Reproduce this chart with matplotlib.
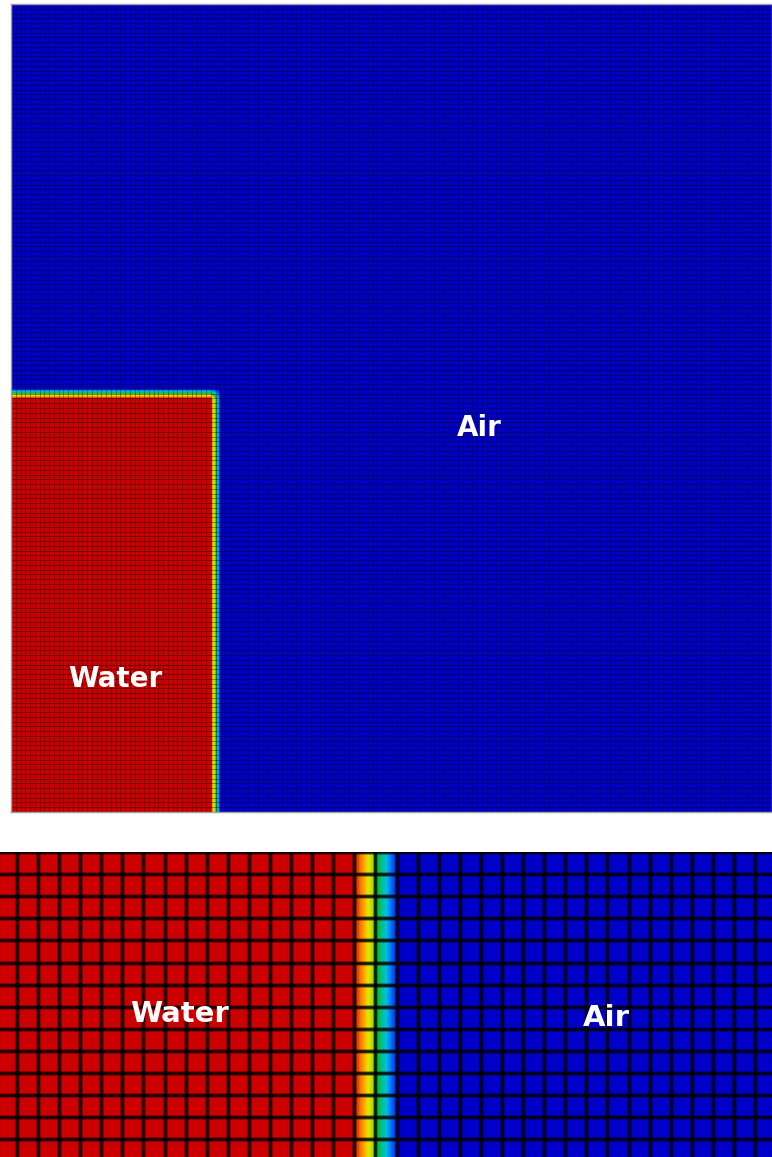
import numpy as np
import matplotlib
matplotlib.use('Agg')
import matplotlib.pyplot as plt
from matplotlib.colors import LinearSegmentedColormap

##-- data --##
# top view: whole domain mesh, water column in the lower-left corner
nCellsX, nCellsY = 160, 170
waterCellsX, waterCellsY = 43, 88
# alpha.water on the nodes across the interface (inside -> outside)
interfaceProfile = [1.0, 0.5, 0.0]

# bottom view: close-up of the interface
zoomCellsX, zoomCellsY = 38, 15
zoomInterfaceNode = 17      #--last fully wet node column

labelsTop = {'Air': (0.615, 0.475), 'Water': (0.137, 0.165)}
labelsZoom = {'Water': (0.233, 0.47), 'Air': (0.785, 0.455)}

##-- colour map (ParaView-like jet) --##
cmap = LinearSegmentedColormap.from_list('alpha', [
    (0.00, '#0000c8'), (0.05, '#0040ff'), (0.24, '#00c0e0'), (0.44, '#00c040'),
    (0.56, '#a0e000'), (0.68, '#f0e000'), (0.84, '#ff8000'), (1.00, '#cc0000')])


def node_alpha(n, wetNodes):
    #-- 1 on wet nodes, then the interface profile, then 0 --#
    a = np.zeros(n + 1)
    a[:wetNodes + 1] = interfaceProfile[0]
    for k, v in enumerate(interfaceProfile[1:], start=1):
        if wetNodes + k <= n:
            a[wetNodes + k] = v
    return a


def show_nodes(ax, field, x0, y0, origin):
    #-- node values as pixels, interpolated in data space --#
    ny, nx = field.shape
    if origin == 'lower':
        ext = (x0 - 0.5, x0 + nx - 0.5, y0 - 0.5, y0 + ny - 0.5)
    else:
        ext = (x0 - 0.5, x0 + nx - 0.5, y0 + ny - 0.5, y0 - 0.5)
    ax.imshow(field, cmap=cmap, vmin=0, vmax=1, origin=origin,
              interpolation='bilinear', interpolation_stage='data',
              aspect='auto', extent=ext)


fig = plt.figure(figsize=(7.72, 11.57), dpi=100)

##-- top panel --##
ax1 = fig.add_axes([11/772, (1157-812)/1157, 761/772, 808/1157])
xn = np.arange(nCellsX + 1)
yn = np.arange(nCellsY + 1)
ax_ = node_alpha(nCellsX, waterCellsX - 1)
ay_ = node_alpha(nCellsY, waterCellsY - 1)
field = ay_[:, None] * ax_[None, :]     #--product rounds the corner
show_nodes(ax1, field, 0, 0, 'lower')
ax1.vlines(xn, 0, nCellsY, colors='k', linewidth=0.5, alpha=0.5)
ax1.hlines(yn, 0, nCellsX, colors='k', linewidth=0.5, alpha=0.5)
ax1.set_xlim(0, nCellsX)
ax1.set_ylim(0, nCellsY)
ax1.set_xticks([])
ax1.set_yticks([])
for s in ax1.spines.values():
    s.set_color('#a0a0a0')
    s.set_linewidth(1.0)
for txt, (px, py) in labelsTop.items():
    ax1.text(px, py, txt, transform=ax1.transAxes, ha='center', va='center',
             color='white', fontsize=20, fontweight='bold')

##-- bottom panel (close-up) --##
ax2 = fig.add_axes([0, 0, 1, 305/1157])
xz = np.arange(-1, zoomCellsX)
yz = np.arange(-1, zoomCellsY)
az = node_alpha(zoomCellsX, zoomInterfaceNode)
fieldZ = np.tile(az, (zoomCellsY + 1, 1))
show_nodes(ax2, fieldZ, -1, -1, 'upper')
for lw, al in [(3.6, 0.3), (1.9, 0.85)]:
    ax2.vlines(xz, -1, zoomCellsY, colors='k', linewidth=lw, alpha=al)
    ax2.hlines(yz, -1, zoomCellsX, colors='k', linewidth=lw, alpha=al)
ax2.set_xlim(-0.8, 35.8)
ax2.set_ylim(13.8, 0)
ax2.axis('off')
for txt, (px, py) in labelsZoom.items():
    ax2.text(px, py, txt, transform=ax2.transAxes, ha='center', va='center',
             color='white', fontsize=21, fontweight='bold')

fig.savefig('out.png', dpi=100)
